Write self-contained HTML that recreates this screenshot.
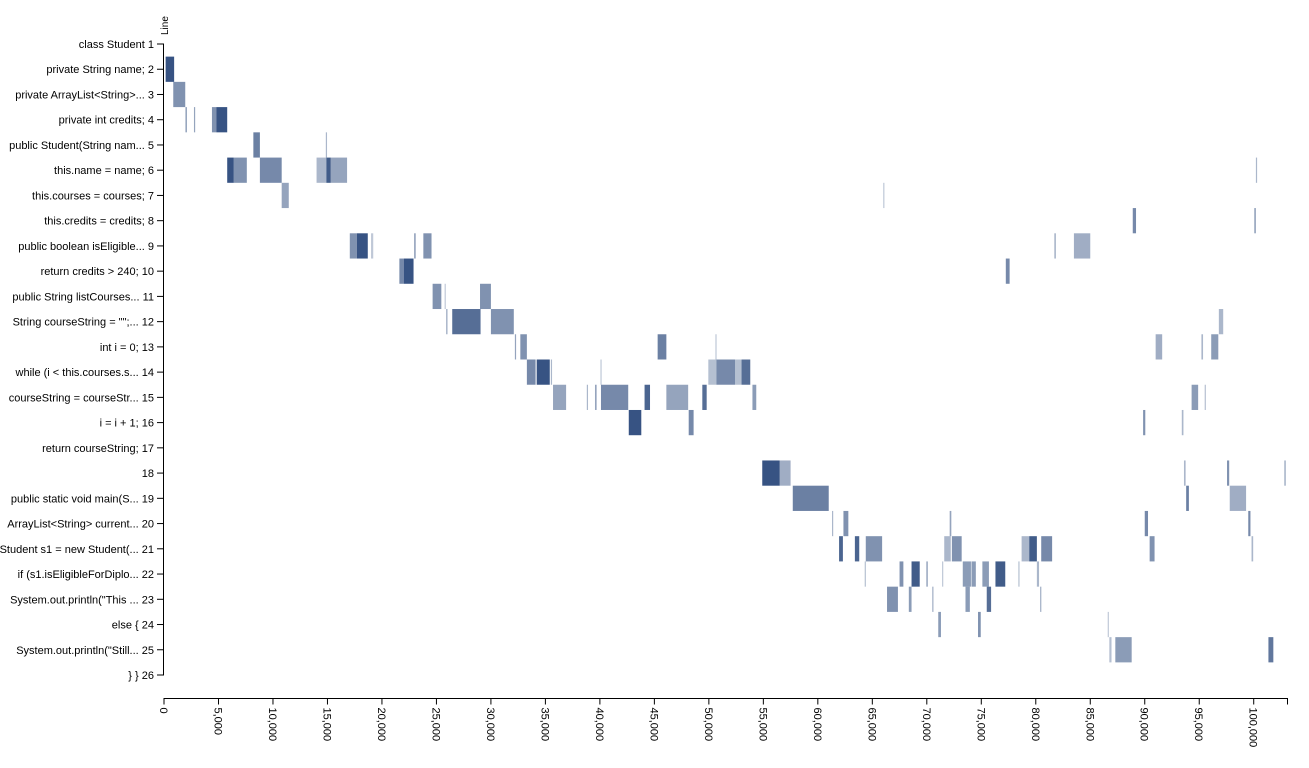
<!DOCTYPE html>
<html><head><meta charset="utf-8"><style>
body{margin:0;background:#fff;}
svg text{font-family:"Liberation Sans",Arial,sans-serif;font-size:11px;fill:#000;}
</style></head><body>
<svg id="chart" width="1309" height="763" xmlns="http://www.w3.org/2000/svg">
<g id="marks"></g>
<g id="yaxis"></g>
<g id="xaxis"></g>
<text transform="translate(168,35) rotate(-90)" style="font-size:10px">Line</text>
</svg>
<script>
const lineLabels = ["class Student 1","private String name; 2","private ArrayList<String>... 3","private int credits; 4","public Student(String nam... 5","this.name = name; 6","this.courses = courses; 7","this.credits = credits; 8","public boolean isEligible... 9","return credits > 240; 10","public String listCourses... 11","String courseString = \"\";... 12","int i = 0; 13","while (i < this.courses.s... 14","courseString = courseStr... 15","i = i + 1; 16","return courseString; 17","18","public static void main(S... 19","ArrayList<String> current... 20","Student s1 = new Student(... 21","if (s1.isEligibleForDiplo... 22","System.out.println(\"This ... 23","else { 24","System.out.println(\"Still... 25","} } 26"];
const xTicks = [0,5000,10000,15000,20000,25000,30000,35000,40000,45000,50000,55000,60000,65000,70000,75000,80000,85000,90000,95000,100000];
const xMax = 103100;
// segments: line number, start (thousands), end (thousands), intensity
const segLine = [
2,
3,
4,4,4,4,
5,5,
6,6,6,6,6,6,6,
7,7,
8,8,
9,9,9,9,9,9,9,
10,10,10,
11,11,11,
12,12,12,12,
13,13,13,13,13,13,13,
14,14,14,14,14,14,14,14,
15,15,15,15,15,15,15,15,15,15,
16,16,16,16,
18,18,18,18,18,
19,19,19,
20,20,20,20,20,
21,21,21,21,21,21,21,21,21,21,
22,22,22,22,22,22,22,22,22,22,22,
23,23,23,23,23,23,
24,24,24,
25,25,25];
const segStart = [
0.15,
0.85,
1.97,2.75,4.4,4.8,
8.2,14.85,
5.8,6.4,8.8,14.0,14.9,15.3,100.2,
10.8,66.0,
88.9,100.05,
17.05,17.7,19.0,22.95,23.8,81.7,83.5,
21.6,22.0,77.25,
24.65,25.75,29.0,
25.9,26.45,30.0,96.8,
32.2,32.7,45.3,50.6,91.0,95.2,96.1,
33.3,34.2,35.5,40.05,49.95,50.7,52.4,53.0,
35.7,38.8,39.55,40.1,44.1,46.1,49.4,54.0,94.3,95.5,
42.65,48.15,89.85,93.4,
54.9,56.5,93.6,97.55,102.8,
57.7,93.8,97.8,
61.3,62.35,72.1,90.0,99.5,
61.95,63.4,64.4,71.6,72.3,78.7,79.4,80.5,90.45,99.8,
64.3,67.5,68.6,69.95,71.4,73.3,74.1,75.1,76.3,78.4,80.1,
66.35,68.35,70.5,73.55,75.5,80.4,
71.05,74.7,86.6,
86.75,87.3,101.35];
const segEnd = [
0.93,
1.95,
2.1,2.85,4.8,5.8,
8.8,14.95,
6.4,7.6,10.8,14.9,15.3,16.8,100.3,
11.45,66.1,
89.2,100.2,
17.7,18.7,19.2,23.1,24.55,81.85,85.0,
22.0,22.9,77.6,
25.45,25.85,30.0,
26.0,29.05,32.1,97.2,
32.3,33.3,46.1,50.7,91.6,95.35,96.75,
34.1,35.4,35.6,40.15,50.7,52.4,53.0,53.8,
36.9,38.9,39.7,42.6,44.6,48.1,49.8,54.35,94.9,95.6,
43.8,48.6,90.05,93.55,
56.5,57.5,93.75,97.75,102.95,
61.0,94.05,99.3,
61.4,62.8,72.25,90.3,99.7,
62.3,63.8,65.9,72.2,73.2,79.4,80.1,81.5,90.9,99.95,
64.4,67.85,69.35,70.1,71.5,74.05,74.5,75.7,77.2,78.5,80.3,
67.35,68.6,70.6,73.95,75.9,80.5,
71.3,74.95,86.7,
86.95,88.8,101.8];
const segVal = [
0.95,
0.6,
0.55,0.5,0.6,0.95,
0.7,0.4,
0.95,0.6,0.65,0.4,0.9,0.5,0.4,
0.5,0.3,
0.65,0.5,
0.6,0.95,0.3,0.5,0.6,0.4,0.45,
0.65,0.95,0.65,
0.6,0.3,0.6,
0.5,0.8,0.6,0.4,
0.5,0.6,0.7,0.3,0.45,0.4,0.55,
0.65,0.95,0.4,0.3,0.35,0.65,0.35,0.8,
0.5,0.4,0.5,0.65,0.85,0.5,0.8,0.55,0.55,0.35,
0.95,0.65,0.6,0.4,
0.95,0.45,0.4,0.6,0.4,
0.7,0.7,0.45,
0.4,0.6,0.5,0.65,0.65,
0.85,0.85,0.6,0.4,0.6,0.4,0.9,0.65,0.6,0.4,
0.35,0.6,0.9,0.45,0.3,0.55,0.55,0.55,0.9,0.35,0.4,
0.6,0.55,0.45,0.55,0.8,0.45,
0.55,0.6,0.3,
0.35,0.55,0.75];

const NS = "http://www.w3.org/2000/svg";
const x0 = 164, x1 = 1287.5, yTop = 44, rowH = 25.24;
function xScale(v){ return x0 + v / xMax * (x1 - x0); }
function yScale(line){ return yTop + (line - 1) * rowH; }
function mk(tag, attrs, parent){ const e = document.createElementNS(NS, tag); for (const k in attrs) e.setAttribute(k, attrs[k]); parent.appendChild(e); return e; }

const marks = document.getElementById('marks');
for (let i = 0; i < segLine.length; i++) {
  const xa = xScale(segStart[i] * 1000), xb = xScale(segEnd[i] * 1000);
  const r = mk('rect', {x: xa, y: yScale(segLine[i]) - rowH/2, width: Math.max(1.2, xb - xa), height: rowH, fill: '#2c4a7c', 'fill-opacity': segVal[i]}, marks);
  
  
}

const yaxis = document.getElementById('yaxis');
const ydom = mk('path', {d: `M157,${yScale(1)}H163.5V${yScale(26)}H157`, stroke: '#000', fill: 'none'}, yaxis);


lineLabels.forEach((lab, i) => {
  const y = yScale(i + 1);
  const t = mk('line', {x1: 157, x2: 163.5, y1: y, y2: y, stroke: '#000'}, yaxis);
  
  
  const tx = mk('text', {x: 154, y: y + 4, 'text-anchor': 'end'}, yaxis);
  tx.textContent = lab;
  
  
});

const xaxis = document.getElementById('xaxis');
const yA = 698.5;
const xdom = mk('path', {d: `M${x0},${yA + 6}V${yA}H${x1}V${yA + 6}`, stroke: '#000', fill: 'none'}, xaxis);


xTicks.forEach(v => {
  const x = xScale(v);
  const t = mk('line', {x1: x, x2: x, y1: yA, y2: yA + 6, stroke: '#000'}, xaxis);
  
  
  const tx = mk('text', {transform: `translate(${x - 4},${yA + 9}) rotate(90)`, 'text-anchor': 'start'}, xaxis);
  tx.textContent = v.toLocaleString('en-US');
  
  
});
</script>
</body></html>
